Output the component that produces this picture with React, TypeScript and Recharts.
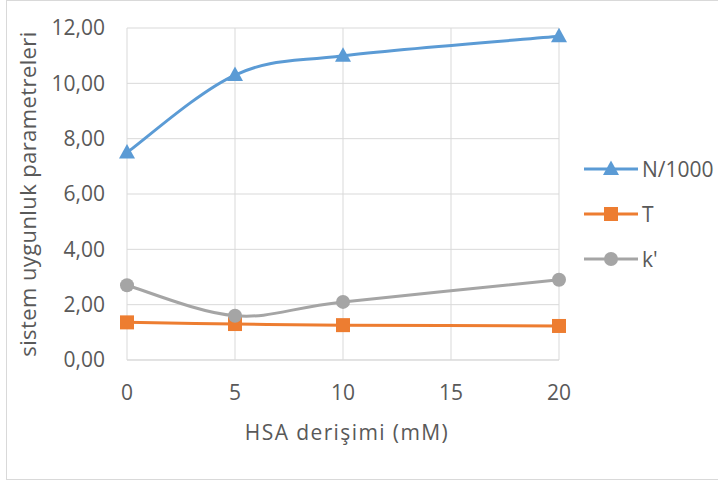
import React from 'react';
import { LineChart, Line, XAxis, YAxis, CartesianGrid, Label } from 'recharts';

// HSA concentration (mM)
const concentrations = [0, 5, 10, 20];
// System suitability parameters
const nPer1000 = [7.5, 10.3, 11.0, 11.7];
const tailing = [1.36, 1.3, 1.26, 1.23];
const kPrime = [2.7, 1.6, 2.1, 2.9];

const xTicks = [0, 5, 10, 15, 20];
const yTicks = [0, 2, 4, 6, 8, 10, 12];

const seriesNames = ['N/1000', 'T', "k'"];

const BLUE = '#5b9bd5';
const ORANGE = '#ed7d31';
const GRAY = '#a5a5a5';
const TEXT = '#595959';
const GRID = '#d9d9d9';
const FONT = '"Open Sans", sans-serif';
const FS = 21;

const data = concentrations.map((x, i) => ({
  x,
  n: nPer1000[i],
  t: tailing[i],
  k: kPrime[i],
}));

const fmt = (v: number) => v.toFixed(2).replace('.', ',');

// Smoothed line: Catmull-Rom style Bezier segments (control points at 1/6 of neighbour span)
const smoothCurve = (context: any) => {
  let pts: number[][] = [];
  return {
    areaStart() {},
    areaEnd() {},
    lineStart() {
      pts = [];
    },
    point(x: number, y: number) {
      pts.push([+x, +y]);
    },
    lineEnd() {
      const n = pts.length;
      if (!n) return;
      context.moveTo(pts[0][0], pts[0][1]);
      for (let i = 0; i < n - 1; i++) {
        const p0 = pts[Math.max(i - 1, 0)];
        const p1 = pts[i];
        const p2 = pts[i + 1];
        const p3 = pts[Math.min(i + 2, n - 1)];
        context.bezierCurveTo(
          p1[0] + (p2[0] - p0[0]) / 6,
          p1[1] + (p2[1] - p0[1]) / 6,
          p2[0] - (p3[0] - p1[0]) / 6,
          p2[1] - (p3[1] - p1[1]) / 6,
          p2[0],
          p2[1]
        );
      }
    },
  };
};

const Triangle = ({ cx, cy, color }: { cx: number; cy: number; color: string }) => (
  <path d={`M${cx},${cy - 8.5} L${cx + 8},${cy + 6} L${cx - 8},${cy + 6} Z`} fill={color} />
);
const Square = ({ cx, cy, color }: { cx: number; cy: number; color: string }) => (
  <rect x={cx - 7} y={cy - 7} width={14} height={14} fill={color} />
);
const Circle = ({ cx, cy, color }: { cx: number; cy: number; color: string }) => (
  <circle cx={cx} cy={cy} r={7} fill={color} />
);

const LegendBox = () => {
  const rows = [
    { name: seriesNames[0], color: BLUE, Marker: Triangle },
    { name: seriesNames[1], color: ORANGE, Marker: Square },
    { name: seriesNames[2], color: GRAY, Marker: Circle },
  ];
  return (
    <svg width={139} height={120} style={{ position: 'absolute', left: 579, top: 154, display: 'block' }}>
      {rows.map((r, i) => {
        const cy = 15 + i * 45;
        return (
          <g key={r.name}>
            <line x1={5} x2={59} y1={cy} y2={cy} stroke={r.color} strokeWidth={3} />
            <r.Marker cx={32} cy={cy} color={r.color} />
            <text x={63} y={cy} dominantBaseline="central" fontFamily={FONT} fontSize={FS} fill={TEXT}>
              {r.name}
            </text>
          </g>
        );
      })}
    </svg>
  );
};

export default function App() {
  return (
    <div style={{ position: 'absolute', left: 0, top: 0, width: 718, height: 481, background: '#fff' }}>
      <div
        style={{
          position: 'absolute',
          left: 6,
          top: 0,
          width: 712,
          height: 480,
          boxSizing: 'border-box',
          border: `1px solid ${GRID}`,
          borderRight: 'none',
        }}
      />
      <LineChart
        width={718}
        height={481}
        data={data}
        margin={{ top: 28, right: 159, bottom: 91, left: 0 }}
        style={{ position: 'absolute', left: 0, top: 0 }}
      >
        <CartesianGrid stroke={GRID} strokeWidth={1} />
        <XAxis
          dataKey="x"
          type="number"
          domain={[0, 20]}
          ticks={xTicks}
          height={30}
          tickLine={false}
          tickSize={0}
          tickMargin={25}
          axisLine={{ stroke: GRID }}
          tick={{ fill: TEXT, fontSize: FS, fontFamily: FONT }}
        >
          <Label
            content={({ viewBox }: any) => (
              <text
                x={viewBox.x + viewBox.width / 2 + 4}
                y={440}
                textAnchor="middle"
                fontFamily={FONT}
                fontSize={FS}
                letterSpacing={1.4}
                fill={TEXT}
              >
                HSA derişimi (mM)
              </text>
            )}
          />
        </XAxis>
        <YAxis
          type="number"
          domain={[0, 12]}
          ticks={yTicks}
          width={127}
          tickFormatter={fmt}
          tickLine={false}
          axisLine={false}
          tickSize={0}
          tickMargin={22}
          tick={{ fill: TEXT, fontSize: FS, fontFamily: FONT }}
        >
          <Label
            content={({ viewBox }: any) => {
              const cx = 27;
              const cy = viewBox.y + viewBox.height / 2;
              return (
                <text
                  x={cx}
                  y={cy}
                  transform={`rotate(-90 ${cx} ${cy})`}
                  textAnchor="middle"
                  dominantBaseline="central"
                  fontFamily={FONT}
                  fontSize={22}
                  letterSpacing={0.4}
                  fill={TEXT}
                >
                  sistem uygunluk parametreleri
                </text>
              );
            }}
          />
        </YAxis>
        <Line
          type={smoothCurve as any}
          dataKey="n"
          name={seriesNames[0]}
          stroke={BLUE}
          strokeWidth={3}
          isAnimationActive={false}
          dot={(p: any) => <Triangle key={`n${p.index}`} cx={p.cx} cy={p.cy} color={BLUE} />}
        />
        <Line
          type={smoothCurve as any}
          dataKey="t"
          name={seriesNames[1]}
          stroke={ORANGE}
          strokeWidth={3}
          isAnimationActive={false}
          dot={(p: any) => <Square key={`t${p.index}`} cx={p.cx} cy={p.cy} color={ORANGE} />}
        />
        <Line
          type={smoothCurve as any}
          dataKey="k"
          name={seriesNames[2]}
          stroke={GRAY}
          strokeWidth={3}
          isAnimationActive={false}
          dot={(p: any) => <Circle key={`k${p.index}`} cx={p.cx} cy={p.cy} color={GRAY} />}
        />
      </LineChart>
      <LegendBox />
    </div>
  );
}
